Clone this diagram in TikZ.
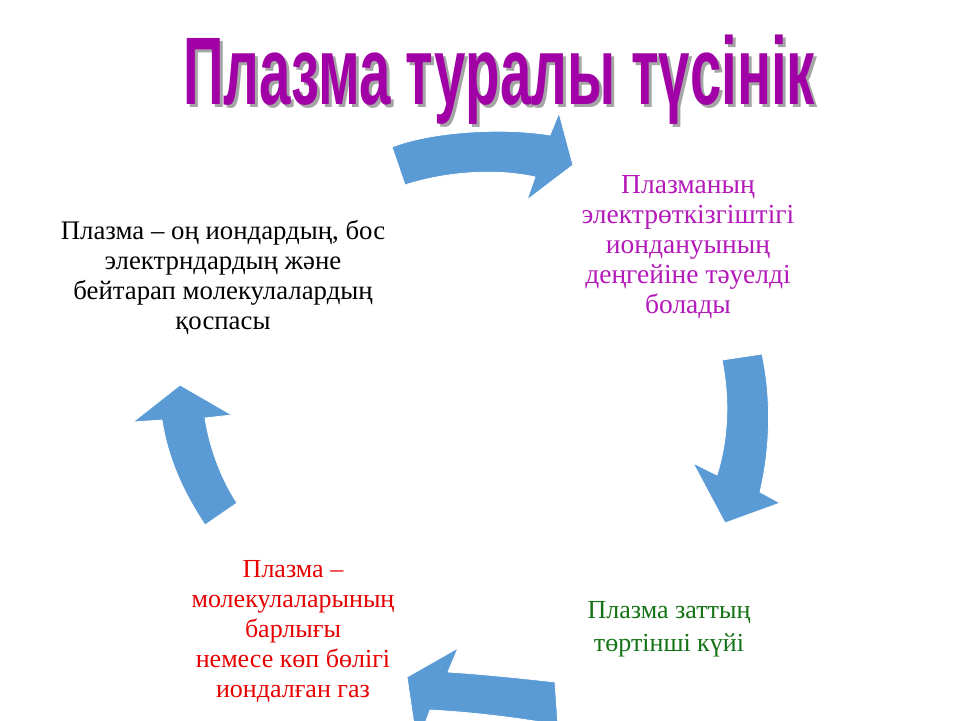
\documentclass[tikz,border=0pt]{standalone}
\usepackage{fontspec}
\setmainfont{Liberation Serif}
\newfontfamily\titlefont{Liberation Sans}
\definecolor{arrowblue}{RGB}{91,155,213}
\definecolor{titlemag}{RGB}{160,0,165}
\definecolor{txtmag}{RGB}{180,25,185}
\definecolor{txtred}{RGB}{230,0,0}
\definecolor{txtgreen}{RGB}{20,115,20}
\definecolor{shadowgray}{RGB}{165,165,165}
\tikzset{
  blockarrow/.style={fill=arrowblue, draw=white, line width=0.8pt, line join=round},
  txt/.style={align=center, inner sep=0pt, anchor=base},
  titletxt/.style={inner sep=0pt, anchor=base}
}
\newcommand{\titlestring}{\resizebox{632pt}{\height}{\titlefont\bfseries\fontsize{96}{100}\selectfont Плазма туралы түсінік}}
\begin{document}
\begin{tikzpicture}[x=1pt,y=-1pt]
\useasboundingbox (0,0) rectangle (960,720);
\clip (0,0) rectangle (960,720);
\fill[white] (0,0) rectangle (960,720);

% title
\node[titletxt, text=shadowgray] (titleshadow) at (502,107) {\titlestring};
\node[titletxt, text=titlemag] (title) at (499,104) {\titlestring};

% arrows
\path[blockarrow] (392,147) .. controls (430,132) and (500,127) .. (550,135)
  -- (559,113) -- (573,165) -- (527,200) -- (535,177)
  .. controls (495,168) and (445,172) .. (405,185) -- cycle;
\path[blockarrow] (722,360) -- (762,354) .. controls (772,400) and (770,450) .. (760,492)
  -- (780,503) -- (725,523) -- (693,463) -- (717,475)
  .. controls (728,440) and (730,400) .. (722,360) -- cycle;
\path[blockarrow] (555,682) .. controls (520,678) and (480,674) .. (448,672)
  -- (458,648) -- (407,677) -- (417,745) -- (430,710)
  .. controls (470,712) and (520,718) .. (558,725) -- cycle;
\path[blockarrow] (180,385) -- (232,415) -- (205,418)
  .. controls (210,450) and (222,480) .. (237,503) -- (205,525)
  .. controls (185,495) and (168,460) .. (162,420) -- (133,422) -- cycle;

% texts (anchor = baseline of the last line)
\node[txt, text=black, font=\fontsize{26.8}{30}\selectfont] (left) at (223,329) {Плазма – оң иондардың, бос\\электрндардың және\\бейтарап молекулалардың\\қоспасы};
\node[txt, text=txtmag, font=\fontsize{27.5}{30}\selectfont] (right) at (688,313) {Плазманың\\электрөткізгіштігі\\иондануының\\деңгейіне тәуелді\\болады};
\node[txt, text=txtred, font=\fontsize{26}{30}\selectfont] (bottomleft) at (293,697) {Плазма –\\молекулаларының\\барлығы\\немесе көп бөлігі\\иондалған газ};
\node[txt, text=txtgreen, font=\fontsize{26}{33}\selectfont] (bottomright) at (669,651) {Плазма заттың\\төртінші күйі};
\end{tikzpicture}
\end{document}
